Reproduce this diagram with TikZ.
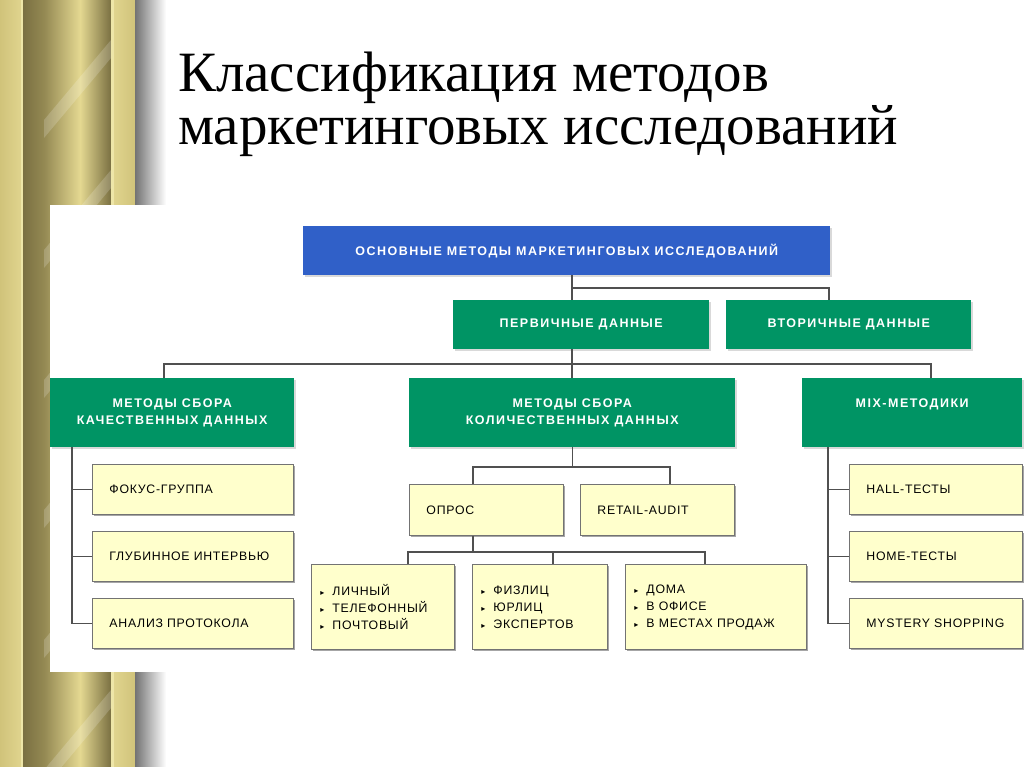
\documentclass[tikz,border=0pt]{standalone}
\usepackage{fontspec}
\setmainfont{Liberation Serif}
\newfontfamily\boxfont[LetterSpace=12]{Liberation Sans}
\newfontfamily\palefont[LetterSpace=6]{Liberation Sans}
\newfontfamily\symfont{DejaVu Sans}
\usetikzlibrary{positioning,shadows}

\definecolor{topblue}{RGB}{48,96,200}
\definecolor{mgreen}{RGB}{0,148,100}
\definecolor{pale}{RGB}{255,255,204}
\definecolor{linegray}{RGB}{80,80,80}
\definecolor{goldA}{RGB}{208,195,122}
\definecolor{goldB}{RGB}{224,212,142}
\definecolor{goldC}{RGB}{238,230,168}
\definecolor{goldD}{RGB}{122,112,66}
\definecolor{goldE}{RGB}{228,216,145}

\newcommand{\tri}{{\symfont\fontsize{8}{8}\selectfont ▸}\hspace{8pt}}

\tikzset{
  conn/.style={draw=linegray, line width=1.3pt},
  headbox/.style={anchor=north west, inner sep=0pt, align=center, text=white,
    font=\boxfont\bfseries\fontsize{12.5}{17}\selectfont,
    drop shadow={shadow xshift=2pt, shadow yshift=-2pt, fill=black!15, opacity=1}},
  bluebox/.style={headbox, fill=topblue},
  greenbox/.style={headbox, fill=mgreen},
  palebox/.style={anchor=north west, fill=pale, draw=black!55, line width=0.9pt,
    inner xsep=17pt, inner ysep=0pt, align=left, text width=#1,
    font=\palefont\fontsize{12.3}{17}\selectfont,
    drop shadow={shadow xshift=1.5pt, shadow yshift=-1.5pt, fill=black!35, opacity=1}},
  listbox/.style={palebox=#1, inner xsep=9pt}
}

\begin{document}
\begin{tikzpicture}[x=1pt,y=-1pt]
\useasboundingbox (0,0) rectangle (1024,767);
\fill[white] (0,0) rectangle (1024,767);

% gold column on the left
\shade[left color=goldA, right color=goldB] (0,0) rectangle (21,767);
\fill[goldC] (21,0) rectangle (23,767);
\shade[left color=goldD, right color=goldD!70!goldA] (23,0) rectangle (44,767);
\shade[left color=goldD!70!goldA, right color=goldE] (44,0) rectangle (80,767);
\shade[left color=goldE, right color=goldD] (80,0) rectangle (111,767);
\fill[goldC] (111,0) rectangle (114,767);
\shade[left color=goldB, right color=goldA] (114,0) rectangle (135,767);
\shade[left color=black!55, right color=white] (135,0) rectangle (166,767);
\begin{scope}
\clip (44,0) rectangle (111,767);
\fill[white, opacity=0.18] (44,120) -- (111,40) -- (111,58) -- (44,138) -- cycle;
\fill[white, opacity=0.18] (44,250) -- (111,170) -- (111,188) -- (44,268) -- cycle;
\fill[white, opacity=0.18] (44,380) -- (111,300) -- (111,318) -- (44,398) -- cycle;
\fill[white, opacity=0.18] (44,510) -- (111,430) -- (111,448) -- (44,528) -- cycle;
\fill[white, opacity=0.18] (44,640) -- (111,560) -- (111,578) -- (44,658) -- cycle;
\fill[white, opacity=0.18] (44,770) -- (111,690) -- (111,708) -- (44,788) -- cycle;
\end{scope}
\fill[white] (50,205) rectangle (1024,672);

% title
\node[anchor=base west, align=left, inner sep=0pt, font=\fontsize{57}{53}\selectfont] (title) at (178,145) {Классификация методов\\маркетинговых исследований};

% boxes
\node[bluebox, minimum width=527pt, minimum height=49pt] (top) at (303,226) {ОСНОВНЫЕ МЕТОДЫ МАРКЕТИНГОВЫХ ИССЛЕДОВАНИЙ};
\node[greenbox, minimum width=256pt, minimum height=49pt] (perv) at (453,300) {ПЕРВИЧНЫЕ ДАННЫЕ};
\node[greenbox, minimum width=245pt, minimum height=49pt] (vtor) at (726,300) {ВТОРИЧНЫЕ ДАННЫЕ};
\node[greenbox, minimum width=244pt, minimum height=69pt] (kach) at (50,378) {МЕТОДЫ СБОРА\\КАЧЕСТВЕННЫХ ДАННЫХ};
\node[greenbox, minimum width=326pt, minimum height=69pt] (kol) at (409,378) {МЕТОДЫ СБОРА\\КОЛИЧЕСТВЕННЫХ ДАННЫХ};
\node[greenbox, minimum width=220pt, minimum height=69pt] (mix) at (802,378) {MIX-МЕТОДИКИ\\\phantom{Д}};

\node[palebox=167pt, minimum height=50pt] (fok) at (92,464) {ФОКУС-ГРУППА};
\node[palebox=167pt, minimum height=50pt] (glub) at (92,531) {ГЛУБИННОЕ ИНТЕРВЬЮ};
\node[palebox=167pt, minimum height=50pt] (anal) at (92,598) {АНАЛИЗ ПРОТОКОЛА};

\node[palebox=120pt, minimum height=51pt] (opros) at (409,484) {ОПРОС};
\node[palebox=120pt, minimum height=51pt] (retail) at (580,484) {RETAIL-AUDIT};

\node[listbox=125pt, minimum height=85pt] (b1) at (311,564) {\tri ЛИЧНЫЙ\\\tri ТЕЛЕФОННЫЙ\\\tri ПОЧТОВЫЙ};
\node[listbox=117pt, minimum height=85pt] (b2) at (472,564) {\tri ФИЗЛИЦ\\\tri ЮРЛИЦ\\\tri ЭКСПЕРТОВ};
\node[listbox=163pt, minimum height=85pt] (b3) at (625,564) {\tri ДОМА\\\tri В ОФИСЕ\\\tri В МЕСТАХ ПРОДАЖ};

\node[palebox=139pt, minimum height=50pt] (hall) at (849,464) {HALL-ТЕСТЫ};
\node[palebox=139pt, minimum height=50pt] (home) at (849,531) {HOME-ТЕСТЫ};
\node[palebox=139pt, minimum height=50pt] (myst) at (849,598) {MYSTERY SHOPPING};

% connectors
\coordinate (j1) at (572,288);
\coordinate (j1r) at (829,288);
\coordinate (j2l) at (164,364);
\coordinate (j2r) at (931,364);
\coordinate (j3l) at (473,467);
\coordinate (j3r) at (670,467);
\coordinate (j4l) at (408,552);
\coordinate (j4m) at (553,552);
\coordinate (j4r) at (705,552);
\coordinate (sl) at (72,0);
\coordinate (sr) at (828,0);
\path[conn] (top.south -| j1) -- (perv.north -| j1);
\path[conn] (j1) -- (j1r) -- (vtor.north -| j1r);
\path[conn] (perv.south -| j1) -- (kol.north -| j1);
\path[conn] (kach.north -| j2l) -- (j2l) -- (j2r) -- (mix.north -| j2r);
\path[conn] (kol.south) -- (kol.south |- j3l);
\path[conn] (opros.north -| j3l) -- (j3l) -- (j3r) -- (retail.north -| j3r);
\path[conn] (opros.south -| j3l) -- (j3l |- j4l);
\path[conn] (b1.north -| j4l) -- (j4l) -- (j4r) -- (b3.north -| j4r);
\path[conn] (j4m) -- (b2.north -| j4m);
\path[conn] (kach.south -| sl) |- (anal.west);
\path[conn] (sl |- fok.west) -- (fok.west);
\path[conn] (sl |- glub.west) -- (glub.west);
\path[conn] (mix.south -| sr) |- (myst.west);
\path[conn] (sr |- hall.west) -- (hall.west);
\path[conn] (sr |- home.west) -- (home.west);
\end{tikzpicture}
\end{document}
